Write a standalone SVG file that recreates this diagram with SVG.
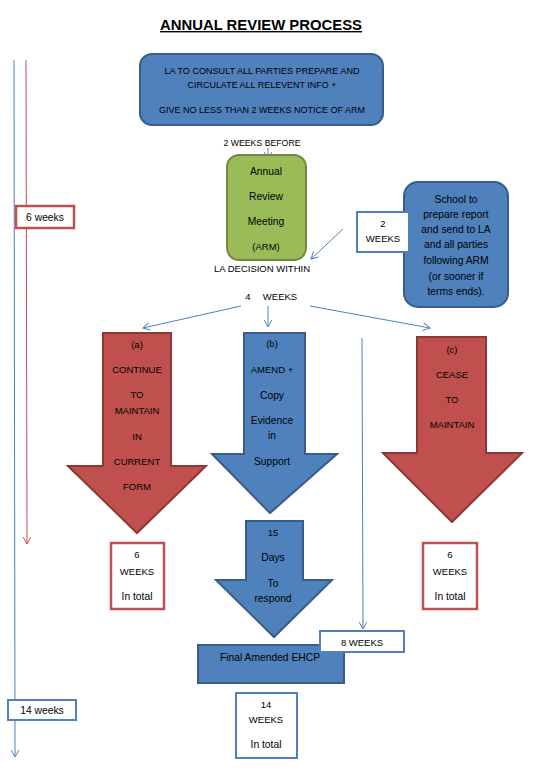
<svg xmlns="http://www.w3.org/2000/svg" width="540" height="783" viewBox="0 0 540 783">
<style>
text{font-family:"Liberation Sans",Arial,sans-serif;font-size:9.5px;fill:#000;text-anchor:middle}
.lc{font-size:10.3px}
.title{font-size:14px;font-weight:bold;text-decoration:underline}
.blue{fill:#4F81BD;stroke:#385D8A;stroke-width:2}
.green{fill:#9BBB59;stroke:#71893F;stroke-width:2}
.red{fill:#C0504D;stroke:#8C3836;stroke-width:2}
.wbox{fill:#fff;stroke:#4F81BD;stroke-width:2}
.rbox{fill:#fff;stroke:#C0504D;stroke-width:2.5}
.conn{fill:none;stroke:#4F81BD;stroke-width:1}
.connr{fill:none;stroke:#C0504D;stroke-width:1}
</style>
<defs>
<marker id="ab" viewBox="0 0 10 10" refX="9" refY="5" markerWidth="8" markerHeight="8" orient="auto" markerUnits="userSpaceOnUse"><path d="M0,0 L9,5 L0,10" fill="none" stroke="#4F81BD" stroke-width="1.2"/></marker>
<marker id="ar" viewBox="0 0 10 10" refX="9" refY="5" markerWidth="8" markerHeight="8" orient="auto" markerUnits="userSpaceOnUse"><path d="M0,0 L9,5 L0,10" fill="none" stroke="#C0504D" stroke-width="1.2"/></marker>
</defs>
<rect width="540" height="783" fill="#fff"/>
<text class="title" x="261" y="30" textLength="202" lengthAdjust="spacingAndGlyphs">ANNUAL REVIEW PROCESS</text>

<g id="connectors">
<line class="conn" x1="14" y1="60" x2="15" y2="757" marker-end="url(#ab)"/>
<line class="connr" x1="26" y1="60" x2="27" y2="544" marker-end="url(#ar)"/>
<line class="conn" x1="268" y1="148" x2="268" y2="159" marker-end="url(#ab)"/>
<line class="conn" x1="343" y1="229" x2="311" y2="259" marker-end="url(#ab)"/>
<line class="conn" x1="241" y1="306" x2="143" y2="328" marker-end="url(#ab)"/>
<line class="conn" x1="268" y1="306" x2="268" y2="327" marker-end="url(#ab)"/>
<line class="conn" x1="310" y1="306" x2="430" y2="328" marker-end="url(#ab)"/>
<line class="conn" x1="362" y1="338" x2="363" y2="629" marker-end="url(#ab)"/>
</g>

<g id="consult">
<rect class="blue" x="140" y="54" width="243" height="71" rx="12"/>
<text x="262" y="74" textLength="195" lengthAdjust="spacingAndGlyphs">LA TO CONSULT ALL PARTIES PREPARE AND</text>
<text x="262" y="88" textLength="149" lengthAdjust="spacingAndGlyphs">CIRCULATE ALL RELEVENT INFO +</text>
<text x="262" y="113" textLength="206" lengthAdjust="spacingAndGlyphs">GIVE NO LESS THAN 2 WEEKS NOTICE OF ARM</text>
</g>

<g id="label-2weeks-before"><text x="262" y="146" textLength="77" lengthAdjust="spacingAndGlyphs">2 WEEKS BEFORE</text></g>

<g id="arm">
<rect class="green" x="227" y="155" width="79" height="105" rx="12"/>
<text class="lc" x="266" y="175">Annual</text>
<text class="lc" x="266" y="200">Review</text>
<text class="lc" x="266" y="225">Meeting</text>
<text x="266" y="250">(ARM)</text>
</g>

<g id="label-la-decision"><text x="262" y="272">LA DECISION WITHIN</text></g>

<g id="school">
<rect class="blue" x="404" y="182" width="104" height="125" rx="14"/>
<text class="lc" x="456" y="203">School to</text>
<text class="lc" x="456" y="218">prepare report</text>
<text class="lc" x="456" y="233">and send to LA</text>
<text class="lc" x="456" y="248">and all parties</text>
<text class="lc" x="456" y="264">following ARM</text>
<text class="lc" x="456" y="280">(or sooner if</text>
<text class="lc" x="456" y="295">terms ends).</text>
</g>

<g id="box-2weeks">
<rect class="wbox" x="357" y="212" width="52" height="40"/>
<text x="383" y="227">2</text>
<text x="383" y="242">WEEKS</text>
</g>

<g id="label-4weeks"><text x="248" y="300">4</text><text x="280" y="300">WEEKS</text></g>

<g id="continue">
<path class="red" d="M103,333 H171 V466 H206 L137,533 L68,466 H103 Z"/>
<text x="137" y="348">(a)</text>
<text x="137" y="373">CONTINUE</text>
<text x="137" y="398">TO</text>
<text x="137" y="414">MAINTAIN</text>
<text x="137" y="440">IN</text>
<text x="137" y="465">CURRENT</text>
<text x="137" y="490">FORM</text>
</g>

<g id="amend">
<path class="blue" d="M244,333 H305 V454 H337 L270,513 L212,454 H244 Z"/>
<text x="272" y="347">(b)</text>
<text x="272" y="373">AMEND +</text>
<text class="lc" x="272" y="399">Copy</text>
<text class="lc" x="272" y="424">Evidence</text>
<text class="lc" x="272" y="439">in</text>
<text class="lc" x="272" y="465">Support</text>
</g>

<g id="cease">
<path class="red" d="M417,337 H486 V453 H522 L452,522 L383,453 H417 Z"/>
<text x="452" y="353">(c)</text>
<text x="452" y="378">CEASE</text>
<text x="452" y="403">TO</text>
<text x="452" y="428">MAINTAIN</text>
</g>

<g id="respond">
<path class="blue" d="M246,521 H303 V580 H332 L274,637 L216,580 H246 Z"/>
<text x="273" y="536">15</text>
<text class="lc" x="273" y="561">Days</text>
<text class="lc" x="273" y="587">To</text>
<text class="lc" x="273" y="602">respond</text>
</g>

<g id="final">
<rect class="blue" x="198" y="645" width="146" height="38"/>
<text class="lc" x="270" y="661">Final Amended EHCP</text>
</g>

<g id="box-8weeks">
<rect class="wbox" x="320" y="631" width="84" height="21"/>
<text x="362" y="646">8 WEEKS</text>
</g>

<g id="box-14weeks-total">
<rect class="wbox" x="236" y="693" width="61" height="65"/>
<text x="266" y="708">14</text>
<text x="266" y="723">WEEKS</text>
<text class="lc" x="266" y="748">In total</text>
</g>

<g id="box-6weeks-a">
<rect class="rbox" x="111" y="543" width="53" height="66"/>
<text x="137" y="558">6</text>
<text x="137" y="575">WEEKS</text>
<text class="lc" x="137" y="600">In total</text>
</g>

<g id="box-6weeks-c">
<rect class="rbox" x="423" y="543" width="54" height="66"/>
<text x="450" y="558">6</text>
<text x="450" y="575">WEEKS</text>
<text class="lc" x="450" y="600">In total</text>
</g>

<g id="box-6weeks-left">
<rect class="rbox" x="16" y="206" width="58" height="22"/>
<text class="lc" x="45" y="221">6 weeks</text>
</g>

<g id="box-14weeks-left">
<rect class="wbox" x="8" y="700" width="68" height="20"/>
<text class="lc" x="42" y="714">14 weeks</text>
</g>
</svg>
